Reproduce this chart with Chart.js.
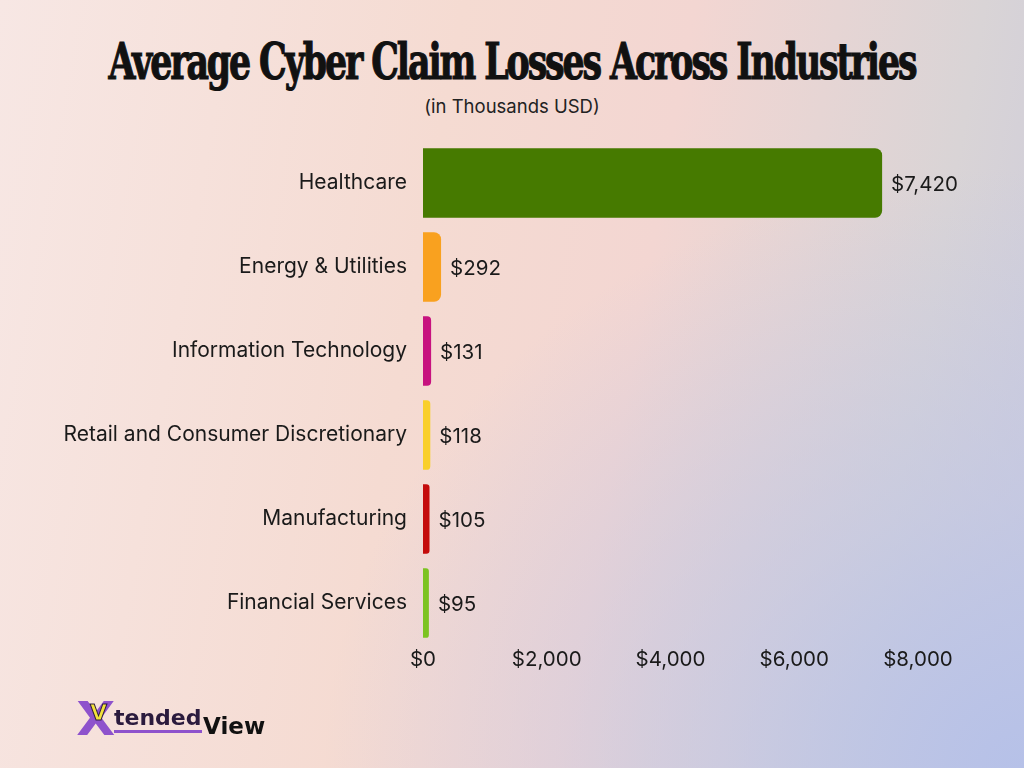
<!DOCTYPE html>
<html>
<head>
<meta charset="utf-8">
<script src="https://cdn.jsdelivr.net/npm/chart.js@4.4.0/dist/chart.umd.min.js"></script>
<style>
  html, body { margin: 0; padding: 0; }
  body {
    width: 1024px; height: 768px; overflow: hidden; position: relative;
    background:
      radial-gradient(ellipse 700px 600px at 1024px 768px, rgba(182,193,232,1) 0%, rgba(190,197,230,0.6) 45%, rgba(200,200,228,0) 100%),
      linear-gradient(100deg, #f7e7e4 0%, #f5dbd2 40%, #f3d6d2 60%, #d9d4d6 85%, #cccbdc 100%);
  }
  #title {
    position: absolute; top: 32px; left: -300px; width: 1624px; text-align: center; white-space: nowrap;
    font-family: "DejaVu Serif", serif; font-weight: bold; font-size: 50px;
    letter-spacing: -3px; color: #111; transform: scaleX(0.695); transform-origin: 812px 0;
    -webkit-text-stroke: 1.2px #111;
  }
  #sub {
    position: absolute; top: 95px; left: 0; width: 1024px; text-align: center;
    font-family: Inter, sans-serif; font-size: 18.5px; color: #222;
  }
  #wrap { position: absolute; left: 0; top: 0; width: 1024px; height: 768px; }
  #logo { position: absolute; left: 78px; top: 700px; font-family: "DejaVu Sans", sans-serif; font-weight: bold; }
  #logo .x { font-size: 46px; color: #8e52cc; position: absolute; left: 0; top: -8px; transform: scaleX(1.1); }
  #logo .v { font-size: 22px; color: #f2e23a; position: absolute; left: 12px; top: 0px; -webkit-text-stroke: 1px #2b1b3d; }
  #logo .t { font-size: 22px; color: #2b1b3d; position: absolute; left: 36px; top: 5px; border-bottom: 3px solid #8e52cc; line-height: 25px; }
  #logo .w { font-size: 23px; color: #111; position: absolute; left: 125px; top: 13px; }
</style>
</head>
<body>
<div id="title">Average Cyber Claim Losses Across Industries</div>
<div id="sub">(in Thousands USD)</div>
<div id="wrap"><canvas id="chart1" width="1024" height="768"></canvas></div>
<div id="logo"><span class="x">X</span><span class="v">V</span><span class="t">tended</span><span class="w">View</span></div>
<script>
// categorias e valores
var industries = ['Healthcare', 'Energy & Utilities', 'Information Technology', 'Retail and Consumer Discretionary', 'Manufacturing', 'Financial Services'];
var losses = [7420, 292, 131, 118, 105, 95];
var barColors = ['#467a00', '#f9a11f', '#c7127f', '#f9cf2b', '#c40c0c', '#7cc321'];
var xTicks = [0, 2000, 4000, 6000, 8000];

function money(v) { return '$' + v.toLocaleString('en-US'); }

// rótulos no fim das barras
var endLabels = {
  id: 'endLabels',
  afterDatasetsDraw: function (chart) {
    var ctx = chart.ctx;
    var meta = chart.getDatasetMeta(0);
    ctx.save();
    ctx.font = '20.5px Inter, sans-serif';
    ctx.fillStyle = '#1a1a1a';
    ctx.textBaseline = 'middle';
    meta.data.forEach(function (bar, i) {
      ctx.fillText(money(losses[i]), bar.x + 9, bar.y + 2);
    });
    ctx.restore();
  }
};

document.addEventListener('DOMContentLoaded', function () {
  var ctx = document.getElementById('chart1').getContext('2d');
  new Chart(ctx, {
    type: 'bar',
    data: {
      labels: industries,
      datasets: [{
        data: losses,
        backgroundColor: barColors,
        borderRadius: 7,
        borderSkipped: 'left',
        barPercentage: 0.83,
        categoryPercentage: 1
      }]
    },
    options: {
      indexAxis: 'y',
      responsive: false,
      animation: false,
      layout: { padding: { top: 141, bottom: 95, right: 106, left: 0 } },
      plugins: { legend: { display: false }, tooltip: { enabled: false } },
      scales: {
        x: {
          min: 0, max: 8000,
          afterBuildTicks: function (s) { s.ticks = xTicks.map(function (v) { return { value: v }; }); },
          afterFit: function (s) { s.height = 28; },
          grid: { display: false, drawTicks: false },
          border: { display: false },
          ticks: { padding: 3, color: '#1a1a1a', font: { family: 'Inter', size: 20.5 }, callback: function (v) { return money(v); } }
        },
        y: {
          afterFit: function (s) { s.width = 423; },
          grid: { display: false, drawTicks: false },
          border: { display: false },
          ticks: { padding: 16, color: '#1a1a1a', font: { family: 'Inter', size: 21 } }
        }
      }
    },
    plugins: [endLabels]
  });
});
</script>
</body>
</html>
